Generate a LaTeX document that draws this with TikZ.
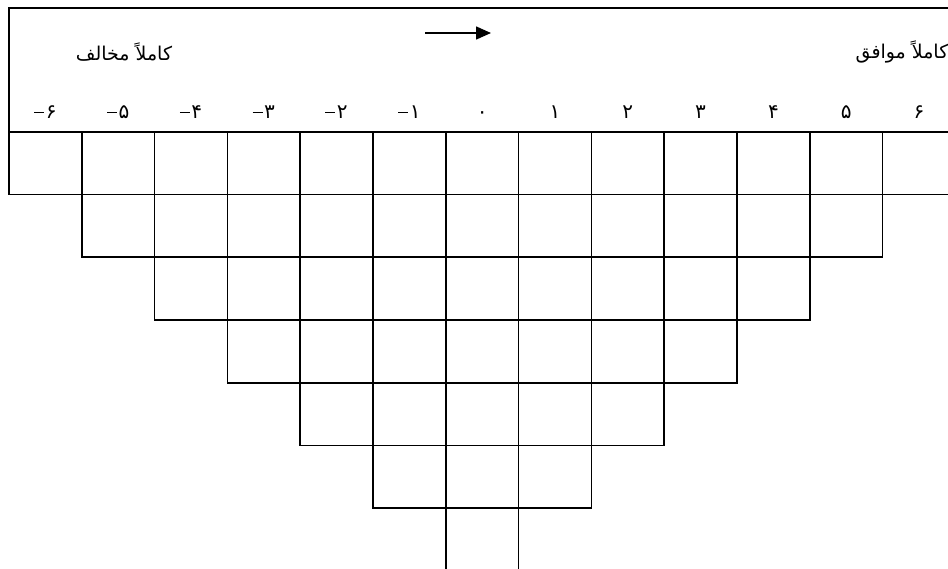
\documentclass[tikz,border=0pt]{standalone}
\usepackage{fontspec}
\newfontfamily\arabicfont[Script=Arabic]{DejaVu Sans}
\TeXXeTstate=1
\usetikzlibrary{arrows.meta}
\newcommand\neglabel[1]{\hbox{\rule[5pt]{10pt}{1.1pt}\hspace{1.5pt}}\hbox{#1}}
\tikzset{
  grid line/.style={line width=1.6pt, black},
  scale label/.style={font=\arabicfont\fontsize{20}{22}\selectfont, inner sep=0pt, anchor=base},
  end label/.style={font=\arabicfont\fontsize{19}{22}\selectfont, inner sep=0pt},
}
\begin{document}
\begin{tikzpicture}[x=1pt,y=-1pt]
\useasboundingbox (0,0) rectangle (948,568);
\clip (0,0) rectangle (948,568);
% header box
\draw[grid line] (9,8) rectangle (955.4,131.7);
% pyramid of cells
\foreach \r in {0,...,6}{
  \pgfmathtruncatemacro\cmax{12-\r}
  \foreach \c in {\r,...,\cmax}{
    \draw[grid line] (9+\c*72.8,131.7+\r*62.75) rectangle ++(72.8,62.75);
  }
}
% scale numbers
\foreach \c/\t in {0/۶,1/۵,2/۴,3/۳,4/۲,5/۱}{
  \node[scale label] (n\c) at (9+\c*72.8+36.4,118) {\neglabel{\t}};
}
\foreach \c/\t in {6/۰,7/۱,8/۲,9/۳,10/۴,11/۵,12/۶}{
  \node[scale label] (n\c) at (9+\c*72.8+36.4,118) {\t};
}
% end labels
\node[end label] (left) at (124,52) {\beginR کاملاً مخالف\endR};
\node[end label] (right) at (902,52) {\beginR کاملاً موافق\endR};
% arrow
\coordinate (a1) at (425,33);
\coordinate (a2) at (491,33);
\draw[line width=1.6pt,-{Triangle[length=15pt,width=13pt]}] (a1) -- (a2);
\end{tikzpicture}
\end{document}
